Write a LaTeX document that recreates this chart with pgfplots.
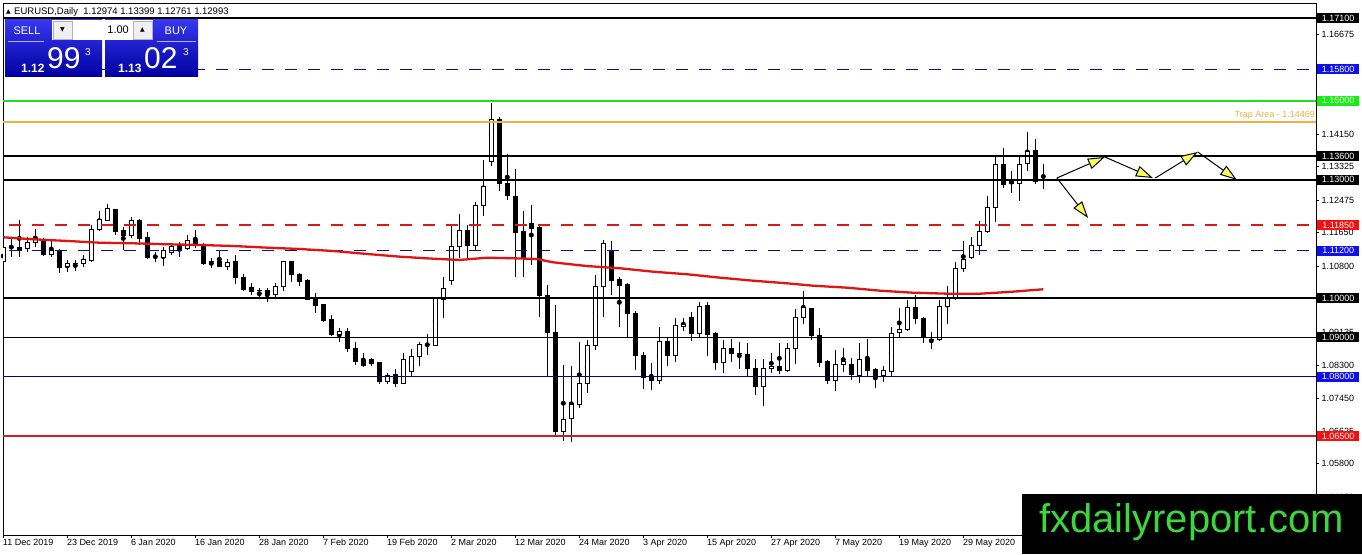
\documentclass[border=0pt]{standalone}
\usepackage{pgfplots}
\pgfplotsset{compat=1.18}
\usepackage{pgfplotstable}
\usepackage{fontspec}
\setmainfont{Liberation Sans}
\newfontfamily\symfont{DejaVu Sans}
\usetikzlibrary{arrows.meta}
\definecolor{navyl}{RGB}{10,10,175}
\definecolor{navys}{RGB}{0,0,150}
\definecolor{redl}{RGB}{215,25,25}
\definecolor{greenl}{RGB}{30,225,30}
\definecolor{orangel}{RGB}{240,176,64}
\definecolor{boxblue}{RGB}{16,16,235}
\definecolor{boxred}{RGB}{245,15,15}
\definecolor{boxgreen}{RGB}{20,240,20}
\definecolor{maRed}{RGB}{225,20,20}
\definecolor{wmgreen}{RGB}{60,215,60}
\definecolor{arrowyellow}{RGB}{255,255,90}
\newcommand{\lab}{\fontsize{9}{10}\selectfont}

\pgfplotstableread{
i o h l c
0 1.10912 1.11419 1.10709 1.11292
1 1.11280 1.11546 1.11039 1.11282
2 1.11280 1.11977 1.11046 1.11191
3 1.11259 1.11554 1.11173 1.11412
4 1.11412 1.11741 1.11300 1.11495
5 1.11478 1.11521 1.11064 1.11097
6 1.11097 1.11445 1.11039 1.11209
7 1.11216 1.11234 1.10646 1.10773
8 1.10798 1.10955 1.10671 1.10882
9 1.10880 1.10963 1.10684 1.10882
10 1.10880 1.11090 1.10793 1.10963
11 1.10955 1.11850 1.10920 1.11724
12 1.11736 1.12218 1.11698 1.11977
13 1.11970 1.12378 1.11952 1.12274
14 1.12231 1.12256 1.11597 1.11680
15 1.11698 1.11807 1.11216 1.11579
16 1.11579 1.12061 1.11526 1.11952
17 1.11952 1.11995 1.11343 1.11513
18 1.11521 1.11680 1.10980 1.11021
19 1.11039 1.11173 1.10920 1.11041
20 1.11026 1.11287 1.10815 1.11191
21 1.11158 1.11402 1.11090 1.11307
22 1.11325 1.11427 1.11039 1.11249
23 1.11249 1.11609 1.11204 1.11460
24 1.11450 1.11724 1.11259 1.11343
25 1.11343 1.11406 1.10836 1.10861
26 1.10932 1.11006 1.10752 1.10934
27 1.10937 1.11191 1.10773 1.10793
28 1.10793 1.10983 1.10701 1.10899
29 1.10912 1.11090 1.10359 1.10514
30 1.10524 1.10600 1.10177 1.10202
31 1.10270 1.10372 1.10075 1.10159
32 1.10189 1.10245 1.09974 1.10191
33 1.10197 1.10255 1.09905 1.10083
34 1.10083 1.10372 1.10024 1.10286
35 1.10286 1.10942 1.10169 1.10912
36 1.10930 1.10950 1.10412 1.10595
37 1.10595 1.10646 1.10304 1.10405
38 1.10435 1.10473 1.09936 1.09948
39 1.10000 1.10118 1.09626 1.09801
40 1.09829 1.09859 1.09398 1.09416
41 1.09441 1.09568 1.09036 1.09061
42 1.09078 1.09238 1.08891 1.09137
43 1.09137 1.09238 1.08637 1.08716
44 1.08723 1.08875 1.08300 1.08384
45 1.08401 1.08596 1.08257 1.08292
46 1.08427 1.08470 1.08287 1.08333
47 1.08351 1.08358 1.07818 1.07876
48 1.07876 1.08105 1.07818 1.08038
49 1.08046 1.08191 1.07751 1.07825
50 1.07836 1.08612 1.07818 1.08444
51 1.08130 1.08718 1.07996 1.08520
52 1.08510 1.08891 1.08274 1.08807
53 1.08807 1.09086 1.08541 1.08809
54 1.08789 1.10037 1.08782 1.10019
55 1.09955 1.10524 1.09504 1.10245
56 1.10438 1.11850 1.10329 1.11310
57 1.11310 1.12137 1.11006 1.11716
58 1.11716 1.11858 1.10988 1.11325
59 1.11325 1.12433 1.11191 1.12357
60 1.12337 1.13506 1.12078 1.12832
61 1.13473 1.14957 1.13341 1.14531
62 1.14533 1.14589 1.12717 1.12895
63 1.12906 1.13642 1.12484 1.12591
64 1.12585 1.13277 1.10542 1.11655
65 1.11673 1.12198 1.10542 1.11008
66 1.11893 1.12357 1.10836 1.11766
67 1.11774 1.11850 1.09525 1.10057
68 1.10065 1.10336 1.08003 1.09124
69 1.09129 1.09822 1.06537 1.06608
70 1.06616 1.08300 1.06362 1.06925
71 1.06949 1.08280 1.06355 1.07286
72 1.07286 1.08891 1.07209 1.07836
73 1.07836 1.08934 1.07590 1.08802
74 1.08797 1.10573 1.08680 1.10295
75 1.10295 1.11470 1.09525 1.11386
76 1.11173 1.11445 1.10088 1.10438
77 1.10456 1.10524 1.09256 1.10316
78 1.10329 1.10380 1.08972 1.09611
79 1.09618 1.09657 1.08181 1.08543
80 1.08553 1.08622 1.07699 1.07995
81 1.08020 1.08351 1.07673 1.07901
82 1.07901 1.09256 1.07826 1.08908
83 1.08908 1.08984 1.08280 1.08535
84 1.08535 1.09504 1.08384 1.09289
85 1.09271 1.09499 1.09170 1.09334
86 1.09509 1.09652 1.08916 1.09104
87 1.09104 1.09890 1.08997 1.09789
88 1.09796 1.09897 1.08528 1.09081
89 1.09086 1.09145 1.08165 1.08363
90 1.08363 1.08942 1.08105 1.08723
91 1.08723 1.08952 1.08384 1.08596
92 1.08586 1.08883 1.08191 1.08588
93 1.08573 1.08850 1.08003 1.08206
94 1.08216 1.08447 1.07546 1.07760
95 1.07760 1.08457 1.07260 1.08216
96 1.08216 1.08596 1.08089 1.08274
97 1.08274 1.08870 1.08071 1.08155
98 1.08160 1.08870 1.08122 1.08723
99 1.08723 1.09728 1.08325 1.09504
100 1.09504 1.10177 1.09345 1.09763
101 1.09720 1.09746 1.08934 1.09036
102 1.09053 1.09238 1.08241 1.08363
103 1.08396 1.08427 1.07810 1.07911
104 1.07911 1.08680 1.07648 1.08312
105 1.08318 1.08744 1.08135 1.08376
106 1.08320 1.08490 1.07919 1.08054
107 1.08038 1.08850 1.07831 1.08444
108 1.08444 1.08952 1.07995 1.08155
109 1.08173 1.08216 1.07729 1.07995
110 1.08028 1.08274 1.07876 1.08155
111 1.08130 1.09256 1.07988 1.09104
112 1.09129 1.09738 1.08997 1.09205
113 1.09195 1.09961 1.09170 1.09763
114 1.09763 1.10075 1.09339 1.09474
115 1.09491 1.09517 1.08850 1.08997
116 1.08947 1.09129 1.08698 1.08949
117 1.08942 1.09948 1.08916 1.09784
118 1.09779 1.10309 1.09334 1.10019
119 1.10019 1.10920 1.09948 1.10752
120 1.10742 1.11434 1.10666 1.10980
121 1.11021 1.11539 1.10980 1.11325
122 1.11333 1.11952 1.11089 1.11680
123 1.11680 1.12586 1.11655 1.12299
124 1.12299 1.13582 1.11934 1.13372
125 1.13372 1.13816 1.12783 1.12887
126 1.12941 1.13210 1.12666 1.12895
127 1.12906 1.13575 1.12458 1.13390
128 1.13398 1.14201 1.13210 1.13709
129 1.13727 1.14027 1.12887 1.12958
130 1.12974 1.13399 1.12761 1.12993
}\candles

\pgfplotstableread{
x y
0 1.11538
3.7 1.11488
8 1.11445
12 1.11401
16.2 1.11386
20.5 1.11361
24.6 1.11343
28.7 1.11318
33 1.11275
37 1.11242
41.2 1.11191
45.5 1.11115
49.6 1.11046
53.7 1.10996
57 1.10963
60.5 1.11021
63.7 1.11006
66.7 1.10988
68.7 1.10904
72.9 1.10810
77.1 1.10752
81.2 1.10666
85.5 1.10600
89.6 1.10514
93.7 1.10438
97.9 1.10372
101.2 1.10311
105.5 1.10260
109.6 1.10184
113.7 1.10133
118 1.10108
122.1 1.10108
126.2 1.10159
130 1.10220
}\ma

\pgfplotsset{base/.style={at={(0pt,0pt)}, anchor=south west, scale only axis,
  width=1313pt, height=532pt, xmin=-0.0375, xmax=164.0875,
  ymin=1.039881, ymax=1.174804, enlargelimits=false}}

\begin{document}
\begin{tikzpicture}[x=1pt,y=1pt]
\useasboundingbox (-3,-19) rectangle (1359,535);
\fill[white] (-3,-19) rectangle (1359,535);

% axis frame, ticks, wicks
\begin{axis}[base,
  axis line style={black, line width=0.8pt},
  tick style={black, line width=0.8pt},
  tick align=outside, major tick length=3pt,
  xtick pos=left, ytick pos=right,
  xticklabel pos=left, yticklabel pos=right,
  xtick={0,8,...,120},
  xticklabels={11 Dec 2019,23 Dec 2019,6 Jan 2020,16 Jan 2020,28 Jan 2020,7 Feb 2020,19 Feb 2020,2 Mar 2020,12 Mar 2020,24 Mar 2020,3 Apr 2020,15 Apr 2020,27 Apr 2020,7 May 2020,19 May 2020,29 May 2020},
  xticklabel style={anchor=north west, inner sep=0pt, xshift=-0.5pt, yshift=-1pt, font=\lab},
  ytick={1.16675,1.15825,1.14975,1.14150,1.13325,1.12475,1.11650,1.10800,1.09975,1.09135,1.08300,1.07450,1.06625,1.05800,1.04950},
  yticklabels={1.16675,1.15825,1.14975,1.14150,1.13325,1.12475,1.11650,1.10800,1.09975,1.09135,1.08300,1.07450,1.06625,1.05800,1.04950},
  yticklabel style={anchor=west, inner sep=0pt, xshift=2.5pt, font=\lab},
]
\addplot[black, line width=1pt, only marks, mark=none, forget plot,
  error bars/.cd, y dir=both, y explicit, error mark=none,
  error bar style={black, line width=1pt, solid}]
  table[x=i, y expr={(\thisrow{h}+\thisrow{l})/2}, y error expr={(\thisrow{h}-\thisrow{l})/2}] {\candles};
\end{axis}

% candle bodies
\begin{axis}[base, hide axis, ybar stacked, bar width=4pt]
\addplot[draw=none, fill=none] table[x=i, y expr={min(\thisrow{o},\thisrow{c})}] {\candles};
\addplot[draw=black, fill=white, line width=1pt] table[x=i, y expr={max(\thisrow{c}-\thisrow{o},0)}] {\candles};
\addplot[draw=black, fill=black, line width=1pt] table[x=i, y expr={max(\thisrow{o}-\thisrow{c},0)}] {\candles};
\end{axis}

% levels, moving average, arrows
\begin{axis}[base, hide axis]
\addplot[black, line width=2pt] coordinates {(-5,1.171) (170,1.171)};
\addplot[navyl, line width=1.2pt, dash pattern=on 12pt off 11pt] coordinates {(-5,1.158) (170,1.158)};
\addplot[greenl, line width=2pt] coordinates {(-5,1.15) (170,1.15)};
\addplot[orangel, line width=2pt] coordinates {(-5,1.14469) (170,1.14469)};
\addplot[black, line width=2pt] coordinates {(-5,1.136) (170,1.136)};
\addplot[black, line width=2pt] coordinates {(-5,1.13) (170,1.13)};
\addplot[redl, line width=1.2pt, dash pattern=on 12pt off 11pt] coordinates {(-5,1.1185) (170,1.1185)};
\addplot[navyl, line width=1.2pt, dash pattern=on 12pt off 11pt] coordinates {(-5,1.112) (170,1.112)};
\addplot[black, line width=2pt] coordinates {(-5,1.10) (170,1.10)};
\addplot[black, line width=1pt] coordinates {(-5,1.09) (170,1.09)};
\addplot[navys, line width=1pt] coordinates {(-5,1.08) (170,1.08)};
\addplot[redl, line width=2pt] coordinates {(-5,1.065) (170,1.065)};
\addplot[maRed, line width=2.3pt, line join=round] table[x=x, y=y] {\ma};
\addplot[black, line width=1pt, -{Triangle[length=17pt,width=11pt,fill=arrowyellow]}] coordinates {(131.7,1.13042) (137.7,1.13575)};
\addplot[black, line width=1pt, -{Triangle[length=17pt,width=11pt,fill=arrowyellow]}] coordinates {(137.7,1.13575) (143.7,1.13042)};
\addplot[black, line width=1pt, -{Triangle[length=17pt,width=11pt,fill=arrowyellow]}] coordinates {(144.0,1.13042) (149.3,1.13702)};
\addplot[black, line width=1pt, -{Triangle[length=17pt,width=11pt,fill=arrowyellow]}] coordinates {(149.3,1.13702) (154.2,1.12992)};
\addplot[black, line width=1pt, -{Triangle[length=17pt,width=11pt,fill=arrowyellow]}] coordinates {(131.7,1.13042) (135.6,1.12028)};
\end{axis}

% panel shading (real coordinates)
\shade[top color={rgb,255:red,55;green,55;blue,240}, bottom color={rgb,255:red,0;green,0;blue,160}] (2,515) rectangle (99,458);
\shade[top color={rgb,255:red,55;green,55;blue,240}, bottom color={rgb,255:red,0;green,0;blue,160}] (102,515) rectangle (195,458);

% overlay in pixel coordinates
\begin{scope}[shift={(-3,535)}, yscale=-1]
  % price boxes
  \foreach \yy/\txt/\col in {18/1.17100/black, 69.3/1.15800/boxblue, 100.8/1.15000/boxgreen, 156/1.13600/black, 179.7/1.13000/black, 225/1.11850/boxred, 250.6/1.11200/boxblue, 298/1.10000/black, 337.4/1.09000/black, 376.8/1.08000/boxblue, 436/1.06500/boxred}
    \node[anchor=west, fill=\col, text=white, minimum width=42pt, minimum height=10pt, inner sep=0pt, font=\lab] at (1317,\yy) {\txt};
  % trap area label
  \node[anchor=south east, inner sep=0pt, text=orangel, font=\lab] at (1315,120) {Trap Area - 1.14469};
  % header
  \node[anchor=west, inner sep=0pt, font=\symfont\fontsize{6}{7}\selectfont] at (6,12) {▲};
  \node[anchor=west, inner sep=0pt, font=\fontsize{9.5}{10}\selectfont] at (14,12) {EURUSD,Daily\ \ 1.12974 1.13399 1.12761 1.12993};
  % panel details
  \draw[white!70!blue, line width=0.6pt] (8,41.5) -- (44,41.5);
  \draw[white!70!blue, line width=0.6pt] (157,41.5) -- (196,41.5);
  \node[text=white, font=\fontsize{11}{12}\selectfont, inner sep=0pt] at (27,31) {SELL};
  \node[text=white, font=\fontsize{11}{12}\selectfont, inner sep=0pt] at (176,31) {BUY};
  \fill[white] (52,20) rectangle (153,40);
  \filldraw[fill=gray!12, draw=gray!60, line width=0.5pt] (53,21) rectangle (72,39);
  \filldraw[fill=gray!12, draw=gray!60, line width=0.5pt] (133,21) rectangle (152,39);
  \node[inner sep=0pt, font=\symfont\fontsize{6}{7}\selectfont] at (62.5,30) {▼};
  \node[inner sep=0pt, font=\symfont\fontsize{6}{7}\selectfont] at (142.5,30) {▲};
  \node[anchor=east, inner sep=0pt, font=\fontsize{11}{12}\selectfont] at (129,30) {1.00};
  \node[anchor=base west, inner sep=0pt, text=white, font=\bfseries\fontsize{12}{13}\selectfont] at (21,73) {1.12};
  \node[anchor=base west, inner sep=0pt, text=white, font=\fontsize{30}{30}\selectfont] at (47,69) {99};
  \node[anchor=base west, inner sep=0pt, text=white, font=\fontsize{10}{11}\selectfont] at (85,56) {3};
  \node[anchor=base west, inner sep=0pt, text=white, font=\bfseries\fontsize{12}{13}\selectfont] at (118,73) {1.13};
  \node[anchor=base west, inner sep=0pt, text=white, font=\fontsize{30}{30}\selectfont] at (144,69) {02};
  \node[anchor=base west, inner sep=0pt, text=white, font=\fontsize{10}{11}\selectfont] at (183,56) {3};
  % watermark
  \fill[black] (1022,494) rectangle (1362,554);
  \node[anchor=base west, inner sep=0pt, text=wmgreen, font=\fontsize{40}{40}\selectfont] at (1039,533) {fxdailyreport.com};
\end{scope}
\end{tikzpicture}
\end{document}
